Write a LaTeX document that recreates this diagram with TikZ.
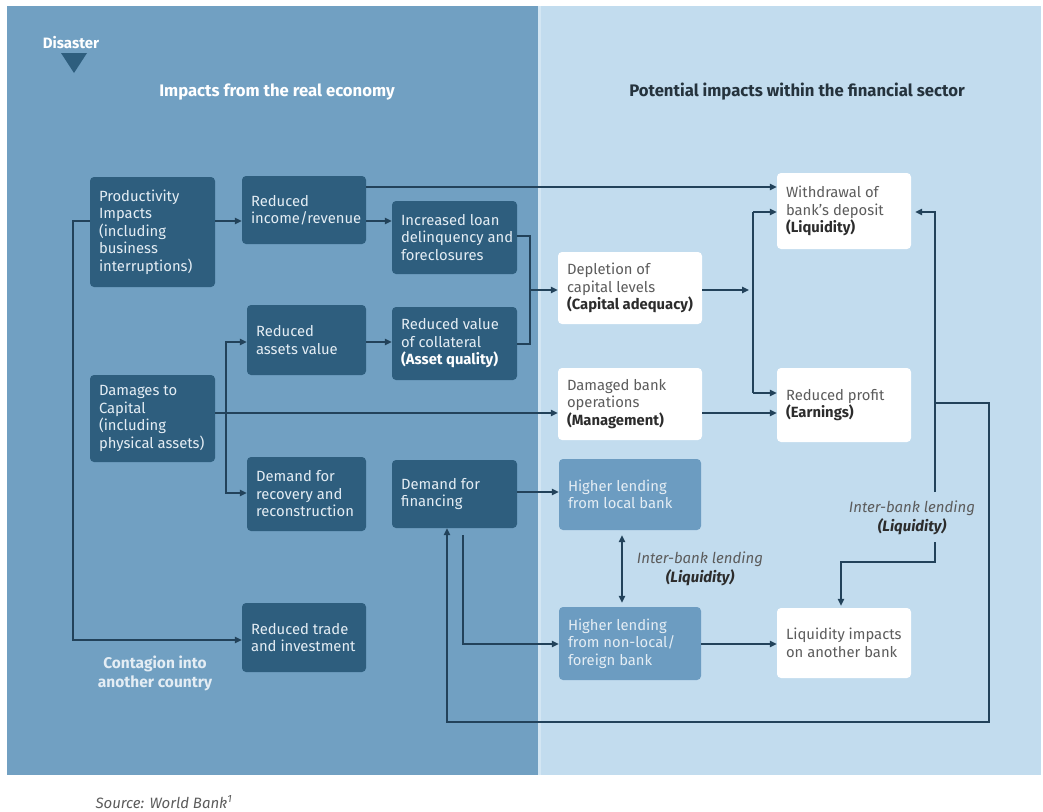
\documentclass[tikz,border=0pt]{standalone}
\usepackage{fontspec}
\setmainfont{Fira Sans}
\usetikzlibrary{arrows.meta}
\definecolor{leftbg}{HTML}{71A0C2}
\definecolor{rightbg}{HTML}{C2DCEE}
\definecolor{seam}{HTML}{D3E6F3}
\definecolor{darkbox}{HTML}{2E5E7E}
\definecolor{midbox}{HTML}{6C9CC1}
\definecolor{linec}{HTML}{22425A}
\definecolor{graytext}{HTML}{5C5C5C}
\definecolor{boldtext}{HTML}{2C2C2C}
\definecolor{lighttext}{HTML}{E4EDF4}
\definecolor{headdark}{HTML}{25333D}
\newcommand{\boxfont}{\fontsize{14.8pt}{17.5pt}\selectfont}
\newcommand{\wb}[1]{\textbf{\color{boldtext}#1}}
\newcommand{\db}[1]{\textbf{\color{white}#1}}
\newcommand{\bx}[7]{%
  \node[#6, minimum width={#4-#2}, minimum height={#5-#3}, inner sep=0pt] (#1) at ({(#2+#4)/2},{(#3+#5)/2}) {};
  \node[#6text, anchor=west, align=left, inner sep=0pt, font=\boxfont] (#1t) at ([xshift=9pt]#1.west) {#7};
}
\begin{document}
\begin{tikzpicture}[x=1pt,y=-1pt,
  dbox/.style={fill=darkbox, rounded corners=4pt},
  dboxtext/.style={text=lighttext},
  wbox/.style={fill=white, rounded corners=4pt},
  wboxtext/.style={text=graytext},
  mbox/.style={fill=midbox, rounded corners=4pt},
  mboxtext/.style={text=lighttext},
  conn/.style={draw=linec, line width=1.3pt},
  arr/.style={conn, -{Triangle[length=7pt,width=6.5pt]}},
  arrboth/.style={conn, {Triangle[length=7pt,width=6.5pt]}-{Triangle[length=7pt,width=6.5pt]}},
  lbl/.style={align=center, inner sep=1pt, font=\itshape\fontsize{15pt}{18.5pt}\selectfont, text=graytext},
  head/.style={font=\bfseries\fontsize{16.7pt}{19pt}\selectfont}
]
\useasboundingbox (0,0) rectangle (1043,811);
% panels
\fill[leftbg] (7,6) rectangle (538,775);
\fill[rightbg] (538,6) rectangle (1041,775);
\fill[seam] (538,6) rectangle (541,775);

% headers
\node[font=\bfseries\fontsize{15pt}{17pt}\selectfont, text=white, inner sep=0pt] (dis) at (71,43) {Disaster};
\fill[darkbox] (61,53) -- (87,53) -- (74,73) -- cycle;
\node[head, text=white] (h1) at (277,92) {Impacts from the real economy};
\node[head, text=headdark] (h2) at (797,92) {Potential impacts within the financial sector};

% left boxes
\bx{pi}{90}{177}{215}{287}{dbox}{Productivity\\Impacts\\(including\\business\\interruptions)}
\bx{ri}{242}{176}{366}{244}{dbox}{Reduced\\income/revenue}
\bx{il}{392}{201}{517}{274}{dbox}{Increased loan\\delinquency and\\foreclosures}
\bx{rav}{247}{305}{366}{375}{dbox}{Reduced\\assets value}
\bx{rvc}{392}{307}{517}{380}{dbox}{Reduced value\\of collateral\\\db{(Asset quality)}}
\bx{dmg}{90}{375}{215}{462}{dbox}{Damages to\\Capital\\(including\\physical assets)}
\bx{rec}{247}{457}{366}{531}{dbox}{Demand for\\recovery and\\reconstruction}
\bx{df}{392}{460}{517}{528}{dbox}{Demand for\\financing}
\bx{rt}{242}{603}{366}{672}{dbox}{Reduced trade\\and investment}

% right boxes
\bx{dep}{558}{252}{702}{324}{wbox}{Depletion of\\capital levels\\\wb{(Capital adequacy)}}
\bx{dbo}{558}{368}{702}{440}{wbox}{Damaged bank\\operations\\\wb{(Management)}}
\bx{wd}{777}{173}{911}{249}{wbox}{Withdrawal of\\bank's deposit\\\wb{(Liquidity)}}
\bx{rp}{777}{368}{911}{442}{wbox}{Reduced profit\\\wb{(Earnings)}}
\bx{hl}{559}{459}{701}{530}{mbox}{Higher lending\\from local bank}
\bx{hn}{559}{607}{701}{680}{mbox}{Higher lending\\from non-local/\\foreign bank}
\bx{li}{777}{608}{911}{678}{wbox}{Liquidity impacts\\on another bank}

% other labels
\node[align=center, font=\bfseries\fontsize{15.5pt}{19pt}\selectfont, text=lighttext] (cont) at (155,673) {Contagion into\\another country};
\node[lbl] (ib1) at (700,569) {Inter-bank lending\\\textbf{\color{boldtext}(Liquidity)}};
\node[lbl] (ib2) at (912,518) {Inter-bank lending\\\textbf{\color{boldtext}(Liquidity)}};
\node[anchor=west, font=\itshape\fontsize{15pt}{17pt}\selectfont, text=graytext] (src) at (92,802) {Source: World Bank\textsuperscript{1}};

% junction coordinates
\coordinate (j1) at (226,413);
\coordinate (j2) at (530,290);
\coordinate (f1) at (753,212);
\coordinate (f2) at (753,393);
\coordinate (r1) at (935,212);
\coordinate (r2) at (935,492);
\coordinate (r3) at (935,542);
\coordinate (r4) at (935,403);
\coordinate (d1) at (463,535);

% connectors left
\draw[arr] (pi.east |- 0,221) -- (ri.west |- 0,221);
\draw[arr] (ri.east |- 0,221) -- (il.west |- 0,221);
\draw[arr] (ri.east |- 0,187) -- (wd.west |- 0,187);
\draw[arr] (pi.west |- 0,221) -- (73,221) |- (rt.west |- 0,640);
\draw[arr] (dmg.east |- j1) -- (dbo.west |- j1);
\draw[arr] (j1) |- (rav.west |- 0,342);
\draw[arr] (j1) |- (rec.west |- 0,493);
\draw[arr] (rav.east |- 0,342) -- (rvc.west |- 0,342);
\draw[conn] (il.east |- 0,236) -| (j2);
\draw[conn] (rvc.east |- 0,344) -| (j2);
\draw[arr] (j2) -- (dep.west |- j2);
\draw[arr] (df.east |- 0,492) -- (hl.west |- 0,492);
\draw[arr] (d1) |- (hn.west |- 0,644);

% connectors right
\draw[arr] (dep.east |- j2) -- ([xshift=-4pt]f1 |- j2);
\draw[conn] (f1) -- (f2);
\draw[arr] (f1) -- (wd.west |- f1);
\draw[arr] (f2) -- (rp.west |- f2);
\draw[arr] (dbo.east |- 0,413) -- (rp.west |- 0,413);
\draw[arrboth] ([yshift=-5pt]hl.south -| 622,0) -- ([yshift=4pt]hn.north -| 622,0);
\draw[arr] (hn.east |- 0,644) -- (li.west |- 0,644);
\draw[arr] (r2) -- (r1) -- ([xshift=4pt]wd.east |- r1);
\draw[arr] (r3) -- (935,562) -| ([yshift=2pt]li.north -| 841,0);
\draw[arr] (r4) -- (989,403) -- (989,722) -| (df.south -| 447,0);
\end{tikzpicture}
\end{document}
